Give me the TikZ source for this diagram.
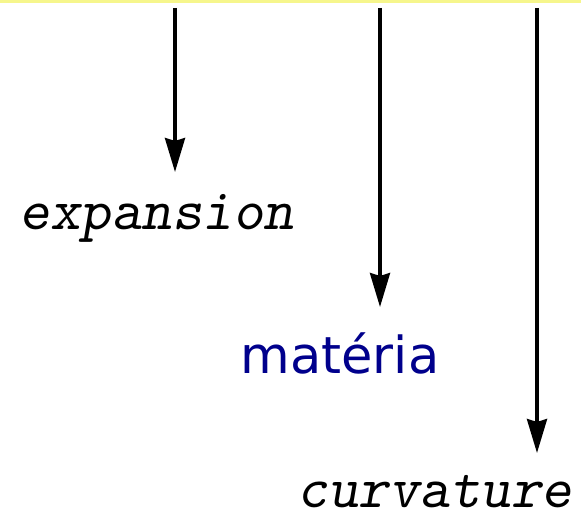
\documentclass[tikz,border=0pt]{standalone}
\usepackage{fontspec}
\usetikzlibrary{arrows.meta}
\newfontfamily\handfont{DejaVu Sans}
\definecolor{baryellow}{RGB}{246,246,140}
\definecolor{materiablue}{RGB}{0,0,140}

\begin{document}
\begin{tikzpicture}[
  x=1pt, y=-1pt, >={Stealth[length=34pt,width=20pt,inset=3pt]},
  arr/.style={->,line width=3.6pt},
  term/.style={font=\ttfamily\slshape\fontsize{58}{66}\selectfont,
    anchor=base,inner sep=0pt},
  hand/.style={font=\handfont\fontsize{51}{60}\selectfont,
    text=materiablue,anchor=base,inner sep=0pt}
]
\useasboundingbox (0,0) rectangle (581,516);
\fill[baryellow] (0,0) rectangle (581,3.5);

\node[term] (exp) at (157,229) {expansion};
\node[hand] (mat) at (340,373) {matéria};
\node[term] (curv) at (435,507) {curvature};

\coordinate (s1) at (175,8);
\coordinate (s2) at (380,8);
\coordinate (s3) at (537,8);
\coordinate (t1) at ([yshift=57pt]exp.base -| s1);
\coordinate (t2) at ([yshift=66pt]mat.base -| s2);
\coordinate (t3) at ([yshift=54pt]curv.base -| s3);

\draw[arr] (s1) -- (t1);
\draw[arr] (s2) -- (t2);
\draw[arr] (s3) -- (t3);
\end{tikzpicture}
\end{document}
